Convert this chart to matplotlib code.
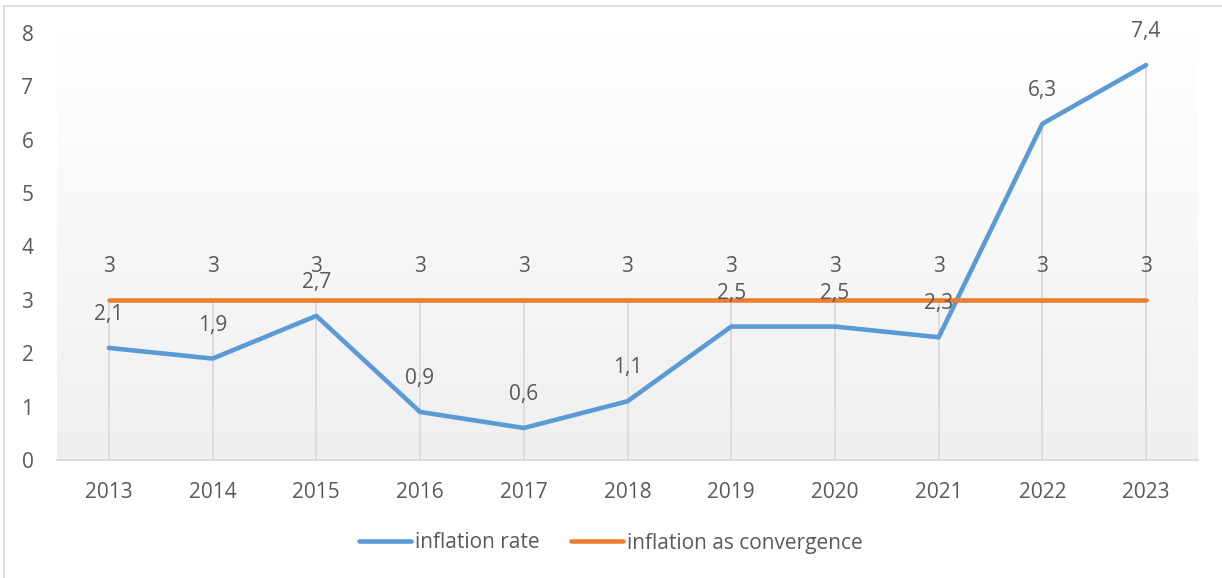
import matplotlib.pyplot as plt
import numpy as np
from matplotlib.lines import Line2D
from matplotlib.colors import LinearSegmentedColormap

years = ["2013", "2014", "2015", "2016", "2017", "2018", "2019", "2020", "2021", "2022", "2023"]
inflation_rate = [2.1, 1.9, 2.7, 0.9, 0.6, 1.1, 2.5, 2.5, 2.3, 6.3, 7.4]
convergence = [3, 3, 3, 3, 3, 3, 3, 3, 3, 3, 3]

blue = "#5B9BD5"
orange = "#ED7D31"
txt = "#595959"
fs = 15
plt.rcParams['font.family'] = ['Open Sans', 'DejaVu Sans']

fig = plt.figure(figsize=(12.22, 5.78), dpi=100)
ax = fig.add_axes([57 / 1222, 1 - 460 / 578, (1198 - 57) / 1222, (460 - 33) / 578])

x = np.arange(len(years))
ax.set_xlim(-0.5, len(years) - 0.5)
ax.set_ylim(0, 8)

# gradient background like excel plot area
cmap = LinearSegmentedColormap.from_list("bg", ["#efefef", "#ffffff"])
grad = np.linspace(0, 1, 256).reshape(-1, 1)
ax.imshow(grad, aspect="auto", cmap=cmap, origin="lower",
          extent=(-0.5, len(years) - 0.5, 0, 8), zorder=0)

# drop lines
for i in x:
    top = max(inflation_rate[i], convergence[i])
    ax.plot([i, i], [0, top], color="#d9d9d9", lw=1.3, zorder=1)

ax.plot(x, inflation_rate, color=blue, lw=3.3, solid_capstyle="round", label="inflation rate", zorder=3)
ax.plot(x, convergence, color=orange, lw=3.3, solid_capstyle="round", label="inflation as convergence", zorder=3)

for i in x:
    ax.annotate(f"{inflation_rate[i]:.1f}".replace(".", ","), (i, inflation_rate[i]),
                xytext=(0, 24), textcoords="offset points", ha="center", va="center",
                fontsize=fs, color=txt, zorder=4)
    ax.annotate(f"{convergence[i]}", (i, convergence[i]),
                xytext=(0, 24), textcoords="offset points", ha="center", va="center",
                fontsize=fs, color=txt, zorder=4)

for s in ["top", "right", "left"]:
    ax.spines[s].set_visible(False)
ax.spines["bottom"].set_color("#d9d9d9")
ax.spines["bottom"].set_linewidth(1.3)

ax.set_xticks(x)
ax.set_xticklabels(years)
ax.set_yticks(range(0, 9))
ax.tick_params(axis="both", length=0, labelsize=fs, labelcolor=txt)
ax.tick_params(axis="x", pad=16)
ax.tick_params(axis="y", pad=17)

leg = fig.legend(loc="center", bbox_to_anchor=(0.5, 1 - 543 / 578), ncol=2, frameon=False,
                 fontsize=fs, handlelength=2.5, handletextpad=0.2, columnspacing=1.5)
for t in leg.get_texts():
    t.set_color(txt)

# chart border
fig.add_artist(Line2D([4 / 1222, 4 / 1222], [0, 1 - 6 / 578], color="#d9d9d9", lw=1.2))
fig.add_artist(Line2D([4 / 1222, 1], [1 - 6 / 578, 1 - 6 / 578], color="#d9d9d9", lw=1.2))

fig.savefig("out.png", dpi=100)
